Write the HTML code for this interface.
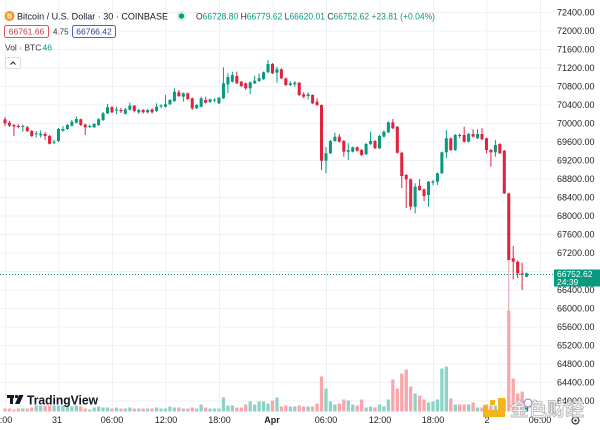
<!DOCTYPE html>
<html><head><meta charset="utf-8"><style>
html,body{margin:0;padding:0;background:#fff;width:600px;height:430px;overflow:hidden}
svg{display:block;font-family:"Liberation Sans","Noto Sans CJK SC",sans-serif}
</style></head><body>
<svg width="600" height="430" viewBox="0 0 600 430" xmlns="http://www.w3.org/2000/svg">
<rect width="600" height="430" fill="#fff"/>
<!-- grid -->
<g stroke="#eef0f4" stroke-width="1">
<line x1="0" y1="12.5" x2="551" y2="12.5"/><line x1="0" y1="31" x2="551" y2="31"/><line x1="0" y1="49.5" x2="551" y2="49.5"/><line x1="0" y1="68" x2="551" y2="68"/><line x1="0" y1="86.5" x2="551" y2="86.5"/><line x1="0" y1="105" x2="551" y2="105"/><line x1="0" y1="123.5" x2="551" y2="123.5"/><line x1="0" y1="142" x2="551" y2="142"/><line x1="0" y1="160.5" x2="551" y2="160.5"/><line x1="0" y1="179" x2="551" y2="179"/><line x1="0" y1="197.5" x2="551" y2="197.5"/><line x1="0" y1="216" x2="551" y2="216"/><line x1="0" y1="234.5" x2="551" y2="234.5"/><line x1="0" y1="253" x2="551" y2="253"/><line x1="0" y1="271.5" x2="551" y2="271.5"/><line x1="0" y1="290" x2="551" y2="290"/><line x1="0" y1="308.5" x2="551" y2="308.5"/><line x1="0" y1="327" x2="551" y2="327"/><line x1="0" y1="345.5" x2="551" y2="345.5"/><line x1="0" y1="364" x2="551" y2="364"/><line x1="0" y1="382.5" x2="551" y2="382.5"/><line x1="0" y1="401" x2="551" y2="401"/>
<line x1="5.5" y1="0" x2="5.5" y2="412"/><line x1="59" y1="0" x2="59" y2="412"/><line x1="112.5" y1="0" x2="112.5" y2="412"/><line x1="166" y1="0" x2="166" y2="412"/><line x1="219.5" y1="0" x2="219.5" y2="412"/><line x1="273" y1="0" x2="273" y2="412"/><line x1="326.5" y1="0" x2="326.5" y2="412"/><line x1="380" y1="0" x2="380" y2="412"/><line x1="433.5" y1="0" x2="433.5" y2="412"/><line x1="487" y1="0" x2="487" y2="412"/><line x1="540.5" y1="0" x2="540.5" y2="412"/>
</g>

<g transform="translate(5 0) scale(4.458 1)">
<!-- volume up -->
<g fill="#8ed2c7">
<rect x="3.63" y="408.5" width=".74" height="3"/><rect x="6.63" y="405.5" width=".74" height="6"/><rect x="7.63" y="405.5" width=".74" height="6"/><rect x="10.63" y="405.5" width=".74" height="6"/><rect x="11.63" y="405.5" width=".74" height="6"/><rect x="12.63" y="405.5" width=".74" height="6"/><rect x="13.63" y="406.5" width=".74" height="5"/><rect x="14.63" y="406.5" width=".74" height="5"/><rect x="15.63" y="405.5" width=".74" height="6"/><rect x="18.63" y="409.5" width=".74" height="2"/><rect x="19.63" y="407.5" width=".74" height="4"/><rect x="20.63" y="406.5" width=".74" height="5"/><rect x="21.63" y="407.5" width=".74" height="4"/><rect x="22.63" y="407.5" width=".74" height="4"/><rect x="24.63" y="407.5" width=".74" height="4"/><rect x="26.63" y="408.5" width=".74" height="3"/><rect x="27.63" y="407.5" width=".74" height="4"/><rect x="29.63" y="408.5" width=".74" height="3"/><rect x="31.63" y="408.5" width=".74" height="3"/><rect x="33.63" y="407.5" width=".74" height="4"/><rect x="34.63" y="408.5" width=".74" height="3"/><rect x="35.63" y="408.5" width=".74" height="3"/><rect x="36.63" y="406.5" width=".74" height="5"/><rect x="37.63" y="407.5" width=".74" height="4"/><rect x="39.63" y="408.5" width=".74" height="3"/><rect x="42.63" y="408.5" width=".74" height="3"/><rect x="43.63" y="404.5" width=".74" height="7"/><rect x="45.63" y="408.5" width=".74" height="3"/><rect x="46.63" y="408.5" width=".74" height="3"/><rect x="47.63" y="408.5" width=".74" height="3"/><rect x="48.63" y="397.5" width=".74" height="14"/><rect x="49.63" y="405.5" width=".74" height="6"/><rect x="50.63" y="405.5" width=".74" height="6"/><rect x="54.63" y="401.5" width=".74" height="10"/><rect x="55.63" y="404.5" width=".74" height="7"/><rect x="56.63" y="401.5" width=".74" height="10"/><rect x="57.63" y="401.5" width=".74" height="10"/><rect x="58.63" y="403.5" width=".74" height="8"/><rect x="60.63" y="397.5" width=".74" height="14"/><rect x="63.63" y="406.5" width=".74" height="5"/><rect x="64.63" y="406.5" width=".74" height="5"/><rect x="67.63" y="406.5" width=".74" height="5"/><rect x="71.63" y="388.5" width=".74" height="23"/><rect x="72.63" y="401.5" width=".74" height="10"/><rect x="73.63" y="404.5" width=".74" height="7"/><rect x="76.63" y="400.5" width=".74" height="11"/><rect x="77.63" y="404.5" width=".74" height="7"/><rect x="80.63" y="407.5" width=".74" height="4"/><rect x="81.63" y="406.5" width=".74" height="5"/><rect x="83.63" y="404.5" width=".74" height="7"/><rect x="84.63" y="406.5" width=".74" height="5"/><rect x="85.63" y="399.5" width=".74" height="12"/><rect x="91.63" y="393.5" width=".74" height="18"/><rect x="94.63" y="402.5" width=".74" height="9"/><rect x="95.63" y="401.5" width=".74" height="10"/><rect x="96.63" y="399.5" width=".74" height="12"/><rect x="97.63" y="368.5" width=".74" height="43"/><rect x="98.63" y="366.5" width=".74" height="45"/><rect x="100.63" y="404.5" width=".74" height="7"/><rect x="103.63" y="404.5" width=".74" height="7"/><rect x="105.63" y="407.5" width=".74" height="4"/><rect x="109.63" y="405.5" width=".74" height="6"/><rect x="116.63" y="401.5" width=".74" height="10" fill="#089981"/>
</g>
<!-- volume down -->
<g fill="#f7a7aa">
<rect x="-0.37" y="408.5" width=".74" height="3"/><rect x="0.63" y="408.5" width=".74" height="3"/><rect x="1.63" y="409.5" width=".74" height="2"/><rect x="2.63" y="408.5" width=".74" height="3"/><rect x="4.63" y="408.5" width=".74" height="3"/><rect x="5.63" y="407.5" width=".74" height="4"/><rect x="8.63" y="405.5" width=".74" height="6"/><rect x="9.63" y="405.5" width=".74" height="6"/><rect x="16.63" y="406.5" width=".74" height="5"/><rect x="17.63" y="408.5" width=".74" height="3"/><rect x="23.63" y="408.5" width=".74" height="3"/><rect x="25.63" y="408.5" width=".74" height="3"/><rect x="28.63" y="408.5" width=".74" height="3"/><rect x="30.63" y="408.5" width=".74" height="3"/><rect x="32.63" y="408.5" width=".74" height="3"/><rect x="38.63" y="407.5" width=".74" height="4"/><rect x="40.63" y="408.5" width=".74" height="3"/><rect x="41.63" y="407.5" width=".74" height="4"/><rect x="44.63" y="407.5" width=".74" height="4"/><rect x="51.63" y="407.5" width=".74" height="4"/><rect x="52.63" y="407.5" width=".74" height="4"/><rect x="53.63" y="404.5" width=".74" height="7"/><rect x="59.63" y="400.5" width=".74" height="11"/><rect x="61.63" y="406.5" width=".74" height="5"/><rect x="62.63" y="405.5" width=".74" height="6"/><rect x="65.63" y="405.5" width=".74" height="6"/><rect x="66.63" y="406.5" width=".74" height="5"/><rect x="68.63" y="406.5" width=".74" height="5"/><rect x="69.63" y="403.5" width=".74" height="8"/><rect x="70.63" y="376.5" width=".74" height="35"/><rect x="74.63" y="403.5" width=".74" height="8"/><rect x="75.63" y="399.5" width=".74" height="12"/><rect x="78.63" y="405.5" width=".74" height="6"/><rect x="79.63" y="399.5" width=".74" height="12"/><rect x="82.63" y="407.5" width=".74" height="4"/><rect x="86.63" y="379.5" width=".74" height="32"/><rect x="87.63" y="388.5" width=".74" height="23"/><rect x="88.63" y="373.5" width=".74" height="38"/><rect x="89.63" y="369.5" width=".74" height="42"/><rect x="90.63" y="386.5" width=".74" height="25"/><rect x="92.63" y="395.5" width=".74" height="16"/><rect x="93.63" y="399.5" width=".74" height="12"/><rect x="99.63" y="398.5" width=".74" height="13"/><rect x="101.63" y="404.5" width=".74" height="7"/><rect x="102.63" y="404.5" width=".74" height="7"/><rect x="104.63" y="402.5" width=".74" height="9"/><rect x="106.63" y="407.5" width=".74" height="4"/><rect x="107.63" y="404.5" width=".74" height="7"/><rect x="108.63" y="405.5" width=".74" height="6"/><rect x="110.63" y="403.5" width=".74" height="8"/><rect x="111.63" y="399.5" width=".74" height="12"/><rect x="112.63" y="310.5" width=".74" height="101"/><rect x="113.63" y="378.5" width=".74" height="33"/><rect x="114.63" y="393.5" width=".74" height="18"/><rect x="115.63" y="391.5" width=".74" height="20"/>
</g>
<!-- up candles -->
<g fill="#089981">
<rect x="3.89" y="125" width=".22" height="6.7"/><rect x="3.66" y="125.7" width=".68" height="1"/>
<rect x="6.89" y="131" width=".22" height="6.7"/><rect x="6.66" y="133.3" width=".68" height="1"/>
<rect x="7.89" y="130.3" width=".22" height="7.4"/><rect x="7.66" y="133.7" width=".68" height="1.6"/>
<rect x="10.89" y="140" width=".22" height="4"/><rect x="10.66" y="141.7" width=".68" height="1"/>
<rect x="11.89" y="128" width=".22" height="14"/><rect x="11.66" y="129" width=".68" height="12"/>
<rect x="12.89" y="126" width=".22" height="5.7"/><rect x="12.66" y="129" width=".68" height="1.7"/>
<rect x="13.89" y="124" width=".22" height="6"/><rect x="13.66" y="125" width=".68" height="4"/>
<rect x="14.89" y="120" width=".22" height="6.5"/><rect x="14.66" y="121.7" width=".68" height="4"/>
<rect x="15.89" y="116.3" width=".22" height="7.2"/><rect x="15.66" y="119" width=".68" height="3.7"/>
<rect x="18.89" y="124.5" width=".22" height="3.5"/><rect x="18.66" y="126" width=".68" height="1"/>
<rect x="19.89" y="123" width=".22" height="5"/><rect x="19.66" y="124" width=".68" height="3.3"/>
<rect x="20.89" y="118" width=".22" height="8"/><rect x="20.66" y="119.3" width=".68" height="5.7"/>
<rect x="21.89" y="112" width=".22" height="9"/><rect x="21.66" y="113.3" width=".68" height="6.7"/>
<rect x="22.89" y="104" width=".22" height="10"/><rect x="22.66" y="107.3" width=".68" height="6"/>
<rect x="24.89" y="106.7" width=".22" height="7.6"/><rect x="24.66" y="109.5" width=".68" height="1"/>
<rect x="26.89" y="108" width=".22" height="6.5"/><rect x="26.66" y="109.3" width=".68" height="4.4"/>
<rect x="27.89" y="102.7" width=".22" height="7.8"/><rect x="27.66" y="105.7" width=".68" height="4"/>
<rect x="29.89" y="109" width=".22" height="5"/><rect x="29.66" y="110" width=".68" height="2.3"/>
<rect x="31.89" y="109" width=".22" height="4.5"/><rect x="31.66" y="110" width=".68" height="2.3"/>
<rect x="33.89" y="103.3" width=".22" height="8.7"/><rect x="33.66" y="106.7" width=".68" height="4.3"/>
<rect x="34.89" y="104.3" width=".22" height="4"/><rect x="34.66" y="105.5" width=".68" height="1"/>
<rect x="35.89" y="95" width=".22" height="12.5"/><rect x="35.66" y="104.3" width=".68" height="2.4"/>
<rect x="36.89" y="99" width=".22" height="6"/><rect x="36.66" y="100" width=".68" height="4.3"/>
<rect x="37.89" y="88.3" width=".22" height="13.7"/><rect x="37.66" y="91.7" width=".68" height="9.3"/>
<rect x="39.89" y="92.5" width=".22" height="9.2"/><rect x="39.66" y="93.3" width=".68" height="3.4"/>
<rect x="42.89" y="104" width=".22" height="5"/><rect x="42.66" y="105" width=".68" height="3.3"/>
<rect x="43.89" y="96.7" width=".22" height="10.8"/><rect x="43.66" y="98.3" width=".68" height="8.4"/>
<rect x="45.89" y="98.5" width=".22" height="4.5"/><rect x="45.66" y="99.3" width=".68" height="2.7"/>
<rect x="46.89" y="98.3" width=".22" height="4"/><rect x="46.66" y="99.5" width=".68" height="1"/>
<rect x="47.89" y="97" width=".22" height="7"/><rect x="47.66" y="97.7" width=".68" height="5.6"/>
<rect x="48.89" y="67.3" width=".22" height="31.7"/><rect x="48.66" y="83.3" width=".68" height="15"/>
<rect x="49.89" y="73.3" width=".22" height="20"/><rect x="49.66" y="77" width=".68" height="7.3"/>
<rect x="50.89" y="71.7" width=".22" height="10.8"/><rect x="50.66" y="75" width=".68" height="6.7"/>
<rect x="54.89" y="81.5" width=".22" height="12.8"/><rect x="54.66" y="82.3" width=".68" height="6"/>
<rect x="55.89" y="75.7" width=".22" height="8.3"/><rect x="55.66" y="80.7" width=".68" height="2.6"/>
<rect x="56.89" y="73.3" width=".22" height="8.7"/><rect x="56.66" y="78.3" width=".68" height="2.7"/>
<rect x="57.89" y="71.5" width=".22" height="8.5"/><rect x="57.66" y="72.3" width=".68" height="6.7"/>
<rect x="58.89" y="60" width=".22" height="13"/><rect x="58.66" y="64" width=".68" height="8.3"/>
<rect x="60.89" y="66.7" width=".22" height="16"/><rect x="60.66" y="69.3" width=".68" height="3.4"/>
<rect x="63.89" y="81.3" width=".22" height="4.7"/><rect x="63.66" y="83.3" width=".68" height="1.7"/>
<rect x="64.89" y="81" width=".22" height="5.7"/><rect x="64.66" y="82.7" width=".68" height="1.6"/>
<rect x="67.89" y="92.3" width=".22" height="7"/><rect x="67.66" y="94.3" width=".68" height="1.7"/>
<rect x="71.89" y="147" width=".22" height="26.3"/><rect x="71.66" y="153.3" width=".68" height="7.4"/>
<rect x="72.89" y="140" width=".22" height="14"/><rect x="72.66" y="141" width=".68" height="12.3"/>
<rect x="73.89" y="132.7" width=".22" height="9.3"/><rect x="73.66" y="136.7" width=".68" height="4.3"/>
<rect x="76.89" y="143.3" width=".22" height="16.7"/><rect x="76.66" y="150" width=".68" height="1.7"/>
<rect x="77.89" y="146.5" width=".22" height="6"/><rect x="77.66" y="147.3" width=".68" height="4.4"/>
<rect x="80.89" y="143" width=".22" height="12"/><rect x="80.66" y="144" width=".68" height="10.3"/>
<rect x="81.89" y="131.7" width=".22" height="13.3"/><rect x="81.66" y="141" width=".68" height="3"/>
<rect x="83.89" y="135" width=".22" height="14"/><rect x="83.66" y="136" width=".68" height="12.3"/>
<rect x="84.89" y="130.5" width=".22" height="7"/><rect x="84.66" y="131.7" width=".68" height="5"/>
<rect x="85.89" y="121.5" width=".22" height="11.5"/><rect x="85.66" y="122.3" width=".68" height="10"/>
<rect x="91.89" y="183.3" width=".22" height="30"/><rect x="91.66" y="186.7" width=".68" height="20"/>
<rect x="94.89" y="181" width=".22" height="25.7"/><rect x="94.66" y="181.7" width=".68" height="13.3"/>
<rect x="95.89" y="180" width=".22" height="5"/><rect x="95.66" y="181.5" width=".68" height="1.2"/>
<rect x="96.89" y="172.5" width=".22" height="12.5"/><rect x="96.66" y="173.3" width=".68" height="8.4"/>
<rect x="97.89" y="151.5" width=".22" height="22.5"/><rect x="97.66" y="152.3" width=".68" height="21"/>
<rect x="98.89" y="130" width=".22" height="28.3"/><rect x="98.66" y="138.3" width=".68" height="14"/>
<rect x="100.89" y="134" width=".22" height="17"/><rect x="100.66" y="135" width=".68" height="15"/>
<rect x="103.89" y="133" width=".22" height="9.5"/><rect x="103.66" y="134" width=".68" height="7.7"/>
<rect x="105.89" y="129.3" width=".22" height="9.7"/><rect x="105.66" y="134" width=".68" height="4.3"/>
<rect x="109.89" y="140" width=".22" height="16.7"/><rect x="109.66" y="145" width=".68" height="7.3"/>
<rect x="116.89" y="272.5" width=".22" height="5"/><rect x="116.66" y="273.3" width=".68" height="3.4"/>
</g>
<!-- down candles -->
<g fill="#e0223d">
<rect x="-0.11" y="117" width=".22" height="9"/><rect x="-0.34" y="119.3" width=".68" height="4"/>
<rect x="0.89" y="121" width=".22" height="6"/><rect x="0.66" y="122.7" width=".68" height="3"/>
<rect x="1.89" y="124" width=".22" height="12"/><rect x="1.66" y="125" width=".68" height="1.3"/>
<rect x="2.89" y="124.3" width=".22" height="4"/><rect x="2.66" y="126" width=".68" height="1"/>
<rect x="4.89" y="126" width=".22" height="6"/><rect x="4.66" y="127.3" width=".68" height="3.7"/>
<rect x="5.89" y="130" width=".22" height="7"/><rect x="5.66" y="131" width=".68" height="5"/>
<rect x="8.89" y="131.7" width=".22" height="8.3"/><rect x="8.66" y="134" width=".68" height="2"/>
<rect x="9.89" y="135" width=".22" height="9.5"/><rect x="9.66" y="136" width=".68" height="7.7"/>
<rect x="16.89" y="118.5" width=".22" height="7.5"/><rect x="16.66" y="119.3" width=".68" height="5.7"/>
<rect x="17.89" y="123.5" width=".22" height="11.5"/><rect x="17.66" y="124.7" width=".68" height="2.6"/>
<rect x="23.89" y="106" width=".22" height="7"/><rect x="23.66" y="107.3" width=".68" height="5"/>
<rect x="25.89" y="108" width=".22" height="5"/><rect x="25.66" y="110" width=".68" height="1.3"/>
<rect x="28.89" y="105" width=".22" height="7.5"/><rect x="28.66" y="105.7" width=".68" height="5.3"/>
<rect x="30.89" y="109" width=".22" height="4.5"/><rect x="30.66" y="110" width=".68" height="2.3"/>
<rect x="32.89" y="108.3" width=".22" height="5.2"/><rect x="32.66" y="109.3" width=".68" height="3"/>
<rect x="38.89" y="90" width=".22" height="7"/><rect x="38.66" y="92.3" width=".68" height="3.7"/>
<rect x="40.89" y="92.5" width=".22" height="7.5"/><rect x="40.66" y="93.3" width=".68" height="5.7"/>
<rect x="41.89" y="97.5" width=".22" height="12.5"/><rect x="41.66" y="98.3" width=".68" height="10"/>
<rect x="44.89" y="96.7" width=".22" height="6.8"/><rect x="44.66" y="100" width=".68" height="2.7"/>
<rect x="51.89" y="71.7" width=".22" height="12.3"/><rect x="51.66" y="76" width=".68" height="7.3"/>
<rect x="52.89" y="81" width=".22" height="6"/><rect x="52.66" y="81.7" width=".68" height="4.3"/>
<rect x="53.89" y="82.5" width=".22" height="7.5"/><rect x="53.66" y="83.3" width=".68" height="5"/>
<rect x="59.89" y="63" width=".22" height="11"/><rect x="59.66" y="64" width=".68" height="9.3"/>
<rect x="61.89" y="68.5" width=".22" height="10.5"/><rect x="61.66" y="69.3" width=".68" height="9"/>
<rect x="62.89" y="77.5" width=".22" height="8.5"/><rect x="62.66" y="78.3" width=".68" height="6.7"/>
<rect x="65.89" y="82" width=".22" height="14"/><rect x="65.66" y="82.7" width=".68" height="12.3"/>
<rect x="66.89" y="92.3" width=".22" height="6"/><rect x="66.66" y="94.3" width=".68" height="2.4"/>
<rect x="68.89" y="94.3" width=".22" height="9.7"/><rect x="68.66" y="95" width=".68" height="8.3"/>
<rect x="69.89" y="98.3" width=".22" height="7.7"/><rect x="69.66" y="101.7" width=".68" height="3.3"/>
<rect x="70.89" y="104.5" width=".22" height="65.5"/><rect x="70.66" y="105" width=".68" height="55.7"/>
<rect x="74.89" y="134" width=".22" height="8.5"/><rect x="74.66" y="136.7" width=".68" height="5"/>
<rect x="75.89" y="140" width=".22" height="16.7"/><rect x="75.66" y="141" width=".68" height="10.7"/>
<rect x="78.89" y="146.5" width=".22" height="5"/><rect x="78.66" y="147.3" width=".68" height="3.4"/>
<rect x="79.89" y="149" width=".22" height="7"/><rect x="79.66" y="150" width=".68" height="5"/>
<rect x="82.89" y="140" width=".22" height="9"/><rect x="82.66" y="141" width=".68" height="7.3"/>
<rect x="86.89" y="119" width=".22" height="10"/><rect x="86.66" y="122.3" width=".68" height="6"/>
<rect x="87.89" y="126" width=".22" height="27.5"/><rect x="87.66" y="126.7" width=".68" height="26"/>
<rect x="88.89" y="151.7" width=".22" height="36.3"/><rect x="88.66" y="152.7" width=".68" height="23.3"/>
<rect x="89.89" y="174" width=".22" height="34"/><rect x="89.66" y="175" width=".68" height="4.3"/>
<rect x="90.89" y="178.5" width=".22" height="31.5"/><rect x="90.66" y="179.3" width=".68" height="27.4"/>
<rect x="92.89" y="179.3" width=".22" height="11.7"/><rect x="92.66" y="186" width=".68" height="4"/>
<rect x="93.89" y="188.5" width=".22" height="12.5"/><rect x="93.66" y="189.3" width=".68" height="6.7"/>
<rect x="99.89" y="137.5" width=".22" height="13.5"/><rect x="99.66" y="138.3" width=".68" height="11.7"/>
<rect x="101.89" y="133.3" width=".22" height="5"/><rect x="101.66" y="135" width=".68" height="1"/>
<rect x="102.89" y="126.7" width=".22" height="15.8"/><rect x="102.66" y="135" width=".68" height="6.7"/>
<rect x="104.89" y="129.3" width=".22" height="8.2"/><rect x="104.66" y="134" width=".68" height="2.7"/>
<rect x="106.89" y="128.3" width=".22" height="11.7"/><rect x="106.66" y="134" width=".68" height="5.3"/>
<rect x="107.89" y="137.5" width=".22" height="15.8"/><rect x="107.66" y="138.3" width=".68" height="11.7"/>
<rect x="108.89" y="149" width=".22" height="17.7"/><rect x="108.66" y="150" width=".68" height="2.3"/>
<rect x="110.89" y="143.3" width=".22" height="10.7"/><rect x="110.66" y="144" width=".68" height="9.3"/>
<rect x="111.89" y="150" width=".22" height="44"/><rect x="111.66" y="150.7" width=".68" height="42.6"/>
<rect x="112.89" y="192.5" width=".22" height="118" fill="#e99aa6"/><rect x="112.66" y="193.3" width=".68" height="66.7"/>
<rect x="113.89" y="246" width=".22" height="33.3"/><rect x="113.66" y="258.3" width=".68" height="3.4"/>
<rect x="114.89" y="260.5" width=".22" height="17.5"/><rect x="114.66" y="261.7" width=".68" height="11.6"/>
<rect x="115.89" y="262.7" width=".22" height="27.3"/><rect x="115.66" y="273.3" width=".68" height="1.7"/>
</g>
</g>

<!-- current price line -->
<line x1="0" y1="274.5" x2="554" y2="274.5" stroke="#089981" stroke-width="1" stroke-dasharray="1 2"/>

<!-- price axis -->
<g font-size="9" fill="#222">
<text x="557" y="15.5">72400.00</text><text x="557" y="34">72000.00</text><text x="557" y="52.5">71600.00</text><text x="557" y="71">71200.00</text><text x="557" y="89.5">70800.00</text><text x="557" y="108">70400.00</text><text x="557" y="126.5">70000.00</text><text x="557" y="145">69600.00</text><text x="557" y="163.5">69200.00</text><text x="557" y="182">68800.00</text><text x="557" y="200.5">68400.00</text><text x="557" y="219">68000.00</text><text x="557" y="237.5">67600.00</text><text x="557" y="256">67200.00</text><text x="557" y="293">66400.00</text><text x="557" y="311.5">66000.00</text><text x="557" y="330">65600.00</text><text x="557" y="348.5">65200.00</text><text x="557" y="367">64800.00</text><text x="557" y="385.5">64400.00</text><text x="557" y="404">64000.00</text>
</g>
<rect x="554" y="269.5" width="46" height="17" fill="#089981"/>
<text x="557" y="277" font-size="8.5" fill="#fff">66752.62</text>
<text x="557" y="285" font-size="8.5" fill="#fff">24:39</text>

<!-- time axis -->
<g font-size="9" fill="#222" text-anchor="middle">
<text x="1" y="423">18:00</text><text x="57" y="423">31</text><text x="112" y="423">06:00</text><text x="166" y="423">12:00</text><text x="219.5" y="423">18:00</text><text x="272" y="423" font-weight="bold">Apr</text><text x="326" y="423">06:00</text><text x="380" y="423">12:00</text><text x="433" y="423">18:00</text><text x="487" y="423">2</text><text x="540" y="423">06:00</text>
</g>
<circle cx="575.5" cy="420.5" r="3.5" fill="none" stroke="#333" stroke-width="1.2"/>
<circle cx="575.5" cy="420.5" r="1.2" fill="#333"/>

<!-- header -->
<circle cx="9.5" cy="16" r="5" fill="#f7931a"/>
<text x="9.5" y="18.6" font-size="7" font-weight="bold" fill="#fff" text-anchor="middle">B</text>
<text x="17" y="19.5" font-size="9.5" fill="#131722" textLength="151" lengthAdjust="spacingAndGlyphs">Bitcoin / U.S. Dollar · 30 · COINBASE</text>
<circle cx="181.5" cy="16" r="5" fill="#d6f0ec"/>
<circle cx="181.5" cy="16" r="2.6" fill="#089981"/>
<text x="196" y="19.5" font-size="9" fill="#089981" textLength="239" lengthAdjust="spacingAndGlyphs"><tspan fill="#333">O</tspan>66728.80 <tspan fill="#333">H</tspan>66779.62 <tspan fill="#333">L</tspan>66620.01 <tspan fill="#333">C</tspan>66752.62 +23.81 (+0.04%)</text>

<rect x="4.5" y="25.5" width="44" height="12" rx="2" fill="#fff" stroke="#e2535f" stroke-width="1"/>
<text x="26.5" y="34.5" font-size="8.5" fill="#d9303f" text-anchor="middle">66761.66</text>
<text x="53" y="34.5" font-size="8" fill="#333">4.75</text>
<rect x="72.5" y="25.5" width="43" height="12" rx="2" fill="#fff" stroke="#4a64c8" stroke-width="1"/>
<text x="94" y="34.5" font-size="8.5" fill="#2a3f9a" text-anchor="middle">66766.42</text>

<text x="5" y="50.5" font-size="8.5" fill="#333">Vol · BTC</text>
<text x="42.5" y="50.5" font-size="8.5" fill="#089981">46</text>

<rect x="5.5" y="57.5" width="15" height="11" rx="2" fill="#fff" stroke="#d8dbe0"/>
<path d="M10.5 64.5 L13 62 L15.5 64.5" fill="none" stroke="#333" stroke-width="1.2"/>

<!-- TradingView logo -->
<g fill="#131722">
<rect x="7" y="395" width="7" height="3"/>
<rect x="10" y="395" width="3" height="9"/>
<circle cx="16.5" cy="396.5" r="1.6"/>
<path d="M19 395 L23.5 395 L19.5 404 L15 404 Z"/>
</g>
<text x="27" y="404.5" font-size="12.5" font-weight="bold" fill="#131722" textLength="71" lengthAdjust="spacingAndGlyphs">TradingView</text>

<!-- watermark -->
<g fill="#f5b31c">
<rect x="498" y="398" width="7" height="19"/>
<rect x="483" y="410" width="22" height="7"/>
<rect x="490" y="400" width="5" height="5"/>
<rect x="483" y="405" width="5" height="5"/>
</g>
<text x="510" y="416" font-size="18.5" fill="#f4f4f4" stroke="#b4b4b4" stroke-width="0.8" textLength="74" lengthAdjust="spacingAndGlyphs" font-family="'Noto Sans CJK SC',sans-serif" font-weight="bold">金色财经</text>
<circle cx="528" cy="403" r="4" fill="#fff" stroke="#9a6fc0" stroke-width="1"/>
</svg>
</body></html>
